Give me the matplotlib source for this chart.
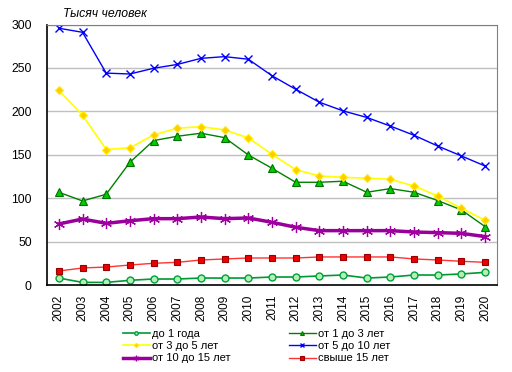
import matplotlib
matplotlib.use("Agg")
import matplotlib.pyplot as plt

plt.rcParams['font.family'] = ['Liberation Sans', 'DejaVu Sans']

years = [str(y) for y in range(2002, 2021)]
under1 = [8, 3, 3, 5.4, 6.9, 6.9, 8, 8, 8, 9.2, 9.2, 10.4, 11.5, 8, 9.2, 11.5, 11.5, 12.7, 14.6]
age1_3 = [106.8, 96.8, 104.5, 141.3, 166.3, 171.3, 174.8, 169.7, 149.8, 134.4, 118.3, 118.3, 119.5, 106.8, 111, 106.8, 97.2, 86.4, 67.2]
age3_5 = [224, 195.5, 156, 158, 172.8, 180.5, 182.4, 178.6, 169.4, 150.5, 132.8, 125.6, 124, 123, 121.8, 114, 102.5, 88.3, 74.5]
age5_10 = [295.7, 291, 244, 243, 249.6, 254, 261, 263, 260, 241, 225.4, 210.5, 200.5, 193, 183, 172.4, 160, 148.6, 137]
age10_15 = [70.3, 76, 71, 74, 76.4, 76.4, 78.3, 76.4, 77.2, 72.2, 66.5, 62.6, 62.6, 62.6, 62.6, 61, 60.3, 59.5, 55.7]
over15 = [16.1, 19.6, 20.7, 23, 25, 26.1, 28.8, 30, 31.1, 31.1, 31.1, 32.3, 32.3, 32.3, 32.3, 30, 28.8, 27.3, 26.1]
labels = ['до 1 года', 'от 1 до 3 лет', 'от 3 до 5 лет', 'от 5 до 10 лет', 'от 10 до 15 лет', 'свыше 15 лет']
yticks = [0, 50, 100, 150, 200, 250, 300]
ylabel = 'Тысяч человек'

fig = plt.figure(figsize=(5.12, 3.72), dpi=100)
ax = fig.add_axes([47/512, 1-285/372, 450/512, (285-24.5)/372])
x = list(range(len(years)))

h = []
h.append(ax.plot(x, under1, color='#009933', lw=1.2, marker='o', ms=5, mfc='#b3f0b3', mec='#00a040', mew=1.0, label=labels[0])[0])
h.append(ax.plot(x, age1_3, color='#008000', lw=1.0, marker='^', ms=5.5, mfc='#00cc00', mec='#007000', mew=0.8, label=labels[1])[0])
h.append(ax.plot(x, age3_5, color='#ffff00', lw=1.2, marker='D', ms=4.5, mfc='#ffcc00', mec='#ffee00', mew=0.8, label=labels[2])[0])
h.append(ax.plot(x, age5_10, color='#0000ff', lw=1.0, marker='x', ms=6, mec='#0000ff', mew=1.0, label=labels[3])[0])
h.append(ax.plot(x, age10_15, color='#990099', lw=2.5, marker=(6, 2, 0), ms=8, mec='#a000a0', mew=0.9, label=labels[4])[0])
h.append(ax.plot(x, over15, color='#ff3333', lw=1.0, marker='s', ms=5, mfc='#ee0000', mec='#990000', mew=0.8, label=labels[5])[0])

ax.set_xlim(-0.5, len(years) - 0.5)
ax.set_ylim(0, 300)
ax.set_yticks(yticks)
ax.set_xticks(x)
ax.set_xticklabels(years, rotation=90, fontsize=8.5)
ax.tick_params(axis='y', labelsize=8.8, length=0, pad=11)
ax.tick_params(axis='x', length=0, pad=7)
ax.yaxis.grid(True, color='#c0c0c0', lw=1)
ax.set_axisbelow(True)
for s in ['top', 'right']:
    ax.spines[s].set_color('#808080')
for s in ['left', 'bottom']:
    ax.spines[s].set_color('black')
    ax.spines[s].set_linewidth(1.2)

fig.text(63/512, 1-14/372, ylabel, fontsize=8.8, style='italic', va='center', ha='left')

order = [0, 2, 4, 1, 3, 5]
fig.legend([h[i] for i in order], [labels[i] for i in order], ncol=2, frameon=False,
           loc='upper left', bbox_to_anchor=(123/512, 1-329/372), fontsize=8,
           handlelength=2.4, handletextpad=0.25, columnspacing=5.2, labelspacing=0.2,
           markerscale=0.5, borderpad=0, borderaxespad=0)

fig.savefig('out.png', dpi=100)
